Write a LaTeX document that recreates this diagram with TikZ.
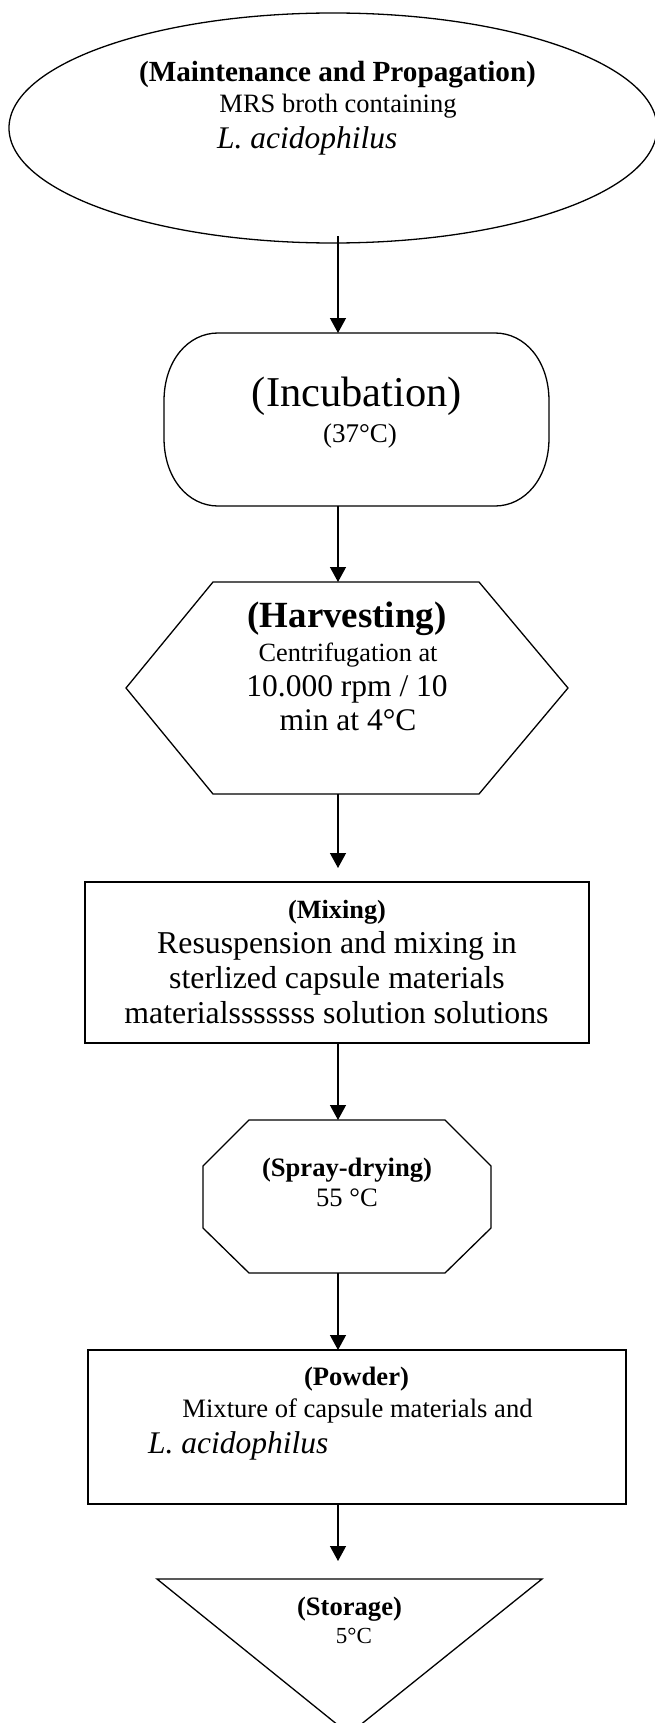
\documentclass[tikz,border=0pt]{standalone}
\usepackage{fontspec}
\setmainfont{Liberation Serif}
\usetikzlibrary{arrows.meta,shapes.geometric}
\tikzset{
  outline/.style={draw=black, line width=1.3pt, line join=miter},
  place/.style={inner sep=0pt, outer sep=0pt},
  flow/.style={draw=black, line width=1.3pt, -{Triangle[length=15pt,width=16pt]}},
  txt/.style={anchor=base, inner sep=0pt, outer sep=0pt},
  txtl/.style={anchor=base west, inner sep=0pt, outer sep=0pt},
  fb/.style={font=\fontsize{#1}{#1}\selectfont\bfseries},
  fr/.style={font=\fontsize{#1}{#1}\selectfont},
  fi/.style={font=\fontsize{#1}{#1}\selectfont\itshape},
}
\begin{document}
\begin{tikzpicture}[x=1pt,y=-1pt]
\useasboundingbox (0,0) rectangle (655,1723);
\coordinate (ax) at (338,0);

% 1 Maintenance and Propagation (ellipse)
\node[outline, place, ellipse, minimum width=648pt, minimum height=230pt] (prop) at (333,128) {};
\node[txt, fb=29.2] (t1) at (337.5,82) {(Maintenance and Propagation)};
\node[txt, fr=26.5] (t2) at (338,113) {MRS broth containing};
\node[txtl, fi=31.5] (t3) at (217,148.5) {L. acidophilus};

% 2 Incubation
\node[place, minimum width=385pt, minimum height=173pt] (inc) at (356.5,419.5) {};
\draw[outline] (218,333) -- (495,333)
  .. controls (524.8,333) and (549,360.5) .. (549,401) -- (549,438)
  .. controls (549,478.5) and (524.8,506) .. (495,506) -- (218,506)
  .. controls (188.2,506) and (164,478.5) .. (164,438) -- (164,401)
  .. controls (164,360.5) and (188.2,333) .. (218,333) -- cycle;
\node[txt, fr=42.5] (t4) at (357,406) {(Incubation)};
\node[txt, fr=27] (t5) at (360,442) {(37°C)};

% 3 Harvesting (hexagon)
\node[place, minimum width=442pt, minimum height=212pt] (harv) at (347,688) {};
\draw[outline] (213,582) -- (479,582) -- (568,688) -- (479,794) -- (213,794) -- (126,688) -- cycle;
\node[txt, fb=36.9] (t6) at (347,627) {(Harvesting)};
\node[txt, fr=26.3] (t7) at (348,661.5) {Centrifugation at};
\node[txt, fr=31.5] (t8) at (347,696) {10.000 rpm / 10};
\node[txt, fr=31.5] (t9) at (348,730.5) {min at 4°C};

% 4 Mixing (rectangle)
\node[outline, place, minimum width=504pt, minimum height=161pt] (mix) at (337,962.5) {};
\node[txt, fb=26.3] (t10) at (337,918) {(Mixing)};
\node[txt, fr=31.8] (t11) at (337,953) {Resuspension and mixing in};
\node[txt, fr=31.8] (t12) at (337,988) {sterlized capsule materials};
\node[txt, fr=31.8] (t13) at (336.5,1023) {materialsssssss solution solutions};

% 5 Spray-drying (octagon)
\node[place, minimum width=288pt, minimum height=153pt] (spray) at (347,1196.5) {};
\draw[outline] (249,1120) -- (445,1120) -- (491,1166) -- (491,1228) -- (445,1273)
  -- (249,1273) -- (203,1228) -- (203,1166) -- cycle;
\node[txt, fb=26.6] (t14) at (347,1176) {(Spray-drying)};
\node[txt, fr=26.6] (t15) at (347,1206) {55 °C};

% 6 Powder (rectangle)
\node[outline, place, minimum width=538pt, minimum height=154pt] (powder) at (357,1427) {};
\node[txt, fb=26.6] (t16) at (356.5,1385) {(Powder)};
\node[txt, fr=26.6] (t17) at (357.5,1417) {Mixture of capsule materials and};
\node[txtl, fi=31.5] (t18) at (148,1453) {L. acidophilus};

% 7 Storage (triangle)
\node[place, minimum width=385pt, minimum height=155pt] (store) at (349.5,1656.5) {};
\draw[outline] (157,1579) -- (542,1579) -- (349,1734) -- cycle;
\node[txt, fb=26.6] (t19) at (349.5,1615) {(Storage)};
\node[txt, fr=23] (t20) at (354,1643) {5°C};

% connectors
\draw[flow] ([yshift=7pt]prop.south -| ax) -- (inc.north -| ax);
\draw[flow] (inc.south -| ax) -- (harv.north -| ax);
\draw[flow, shorten >=14pt] (harv.south -| ax) -- (mix.north -| ax);
\draw[flow] (mix.south -| ax) -- (spray.north -| ax);
\draw[flow] (spray.south -| ax) -- (powder.north -| ax);
\draw[flow, shorten >=18pt] (powder.south -| ax) -- (store.north -| ax);
\end{tikzpicture}
\end{document}
